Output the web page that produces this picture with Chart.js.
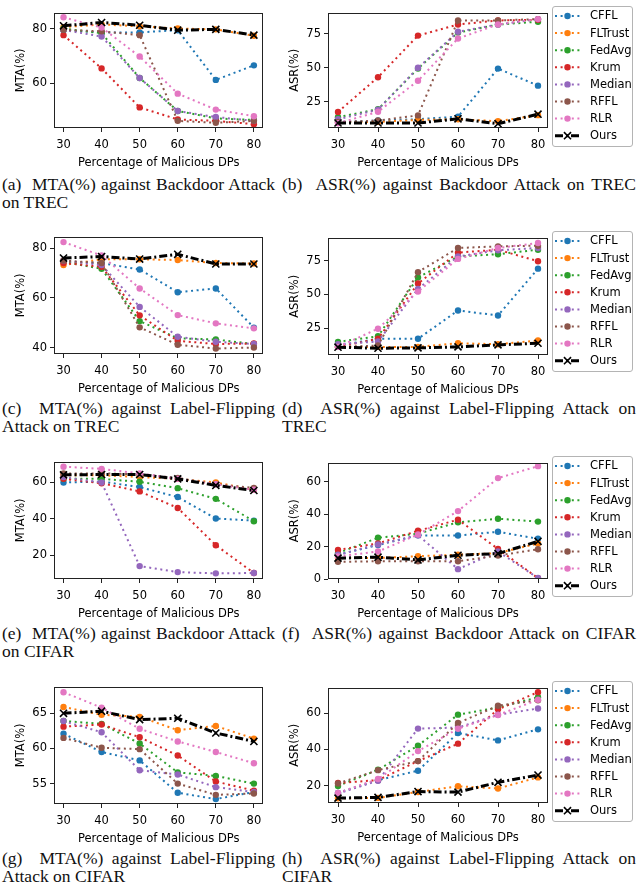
<!DOCTYPE html>
<html>
<head>
<meta charset="utf-8">
<script src="https://cdn.jsdelivr.net/npm/chart.js@4.4.0/dist/chart.umd.min.js"></script>
<style>
  html, body { margin: 0; padding: 0; background: #fff; }
  body { width: 641px; height: 884px; position: relative; overflow: hidden; }
  canvas { position: absolute; }
  .legend-box { position: absolute; box-sizing: border-box; width: 81px; height: 141px; border: 1.5px solid #b4b4b4; border-radius: 3px; }
  .cap { position: absolute; font-family: "Liberation Serif", "DejaVu Serif", serif; font-size: 17.5px; line-height: 18px; color: #111; white-space: nowrap; }
  .cap .j { text-align: justify; text-align-last: justify; white-space: normal; }
</style>
</head>
<body>
<script>
// x positions shared by every panel
const xValues = [30, 40, 50, 60, 70, 80];
const methods = ['CFFL', 'FLTrust', 'FedAvg', 'Krum', 'Median', 'RFFL', 'RLR', 'Ours'];

// rows follow the order of methods
const mtaBackdoorTrec = [
  [79.4, 78.6, 78.6, 79.4, 61.3, 66.6],
  [80.5, 81.5, 80.8, 80.0, 79.7, 77.4],
  [80.0, 78.3, 62.0, 50.0, 47.3, 46.7],
  [77.6, 65.5, 51.3, 46.9, 46.4, 45.2],
  [79.5, 77.1, 62.0, 50.0, 47.8, 46.4],
  [79.5, 79.0, 77.6, 46.4, 45.7, 46.4],
  [84.1, 80.4, 69.8, 56.3, 50.5, 48.1],
  [81.0, 82.2, 81.2, 79.4, 79.7, 77.6]
];
const asrBackdoorTrec = [
  [10.0, 11.0, 12.0, 13.9, 49.4, 36.8],
  [10.0, 10.0, 11.5, 12.0, 10.5, 15.0],
  [13.5, 19.4, 49.5, 76.0, 82.0, 84.0],
  [17.4, 43.0, 73.8, 82.0, 85.0, 85.5],
  [12.0, 19.0, 50.0, 76.6, 82.0, 86.0],
  [10.0, 11.0, 14.8, 85.0, 85.0, 86.0],
  [9.0, 17.5, 40.4, 71.7, 82.0, 86.0],
  [9.2, 9.2, 9.2, 12.3, 8.7, 15.7]
];
const mtaFlipTrec = [
  [74.5, 74.0, 71.4, 62.3, 63.8, 48.1],
  [73.2, 75.5, 75.5, 75.2, 74.0, 73.8],
  [74.5, 71.7, 50.7, 43.8, 43.3, 41.5],
  [74.0, 72.5, 53.0, 42.8, 41.5, 41.7],
  [75.0, 73.2, 56.4, 44.4, 42.4, 41.5],
  [75.0, 74.0, 48.2, 41.2, 39.7, 40.1],
  [82.4, 77.0, 63.8, 53.1, 49.8, 47.8],
  [76.0, 76.6, 75.6, 77.5, 73.6, 73.6]
];
const asrFlipTrec = [
  [12.0, 17.0, 17.0, 38.0, 34.3, 69.0],
  [11.0, 11.0, 11.0, 13.7, 13.0, 15.7],
  [14.7, 18.9, 62.5, 78.0, 79.7, 83.0],
  [11.0, 17.0, 58.0, 80.9, 83.0, 74.5],
  [13.0, 15.0, 54.0, 78.0, 82.6, 84.3],
  [11.0, 12.0, 66.4, 84.3, 85.5, 86.0],
  [11.0, 24.5, 52.0, 76.2, 84.3, 88.0],
  [10.8, 10.0, 10.3, 11.0, 12.5, 13.7]
];
const mtaBackdoorCifar = [
  [60.0, 60.5, 57.5, 52.0, 40.2, 39.0],
  [64.0, 64.0, 63.0, 62.0, 60.0, 56.0],
  [62.0, 62.0, 60.4, 56.9, 51.0, 38.7],
  [62.0, 59.6, 55.1, 46.0, 25.5, 10.2],
  [63.0, 60.0, 14.0, 10.7, 10.0, 10.2],
  [65.0, 65.0, 64.5, 62.5, 59.0, 57.0],
  [68.7, 67.5, 65.0, 62.0, 59.0, 56.0],
  [64.2, 64.4, 64.4, 62.0, 58.4, 55.6]
];
const asrBackdoorCifar = [
  [15.0, 21.0, 27.0, 26.9, 29.2, 24.9],
  [13.0, 13.0, 14.1, 15.0, 16.0, 22.0],
  [16.0, 25.5, 28.0, 35.1, 37.3, 35.5],
  [18.0, 22.0, 29.8, 36.7, 18.6, 0.5],
  [15.0, 21.4, 27.0, 6.1, 17.0, 0.6],
  [10.6, 11.0, 11.0, 11.0, 14.5, 18.4],
  [14.0, 17.0, 27.5, 42.0, 62.4, 69.8],
  [12.9, 13.5, 11.8, 14.7, 15.7, 23.3]
];
const mtaFlipCifar = [
  [62.1, 59.5, 58.3, 53.7, 52.8, 53.8],
  [65.9, 64.8, 64.5, 62.6, 63.2, 61.4],
  [63.9, 63.5, 60.7, 56.6, 56.1, 55.0],
  [63.1, 63.4, 61.6, 59.0, 55.3, 54.0],
  [63.9, 62.3, 56.9, 56.3, 54.5, 53.8],
  [61.5, 60.1, 59.9, 55.0, 53.4, 53.6],
  [68.0, 65.8, 62.8, 61.0, 59.5, 57.9],
  [65.0, 65.3, 64.1, 64.3, 62.2, 61.0]
];
const asrFlipCifar = [
  [16.0, 23.0, 28.2, 49.0, 44.9, 51.0],
  [13.0, 13.2, 16.5, 19.6, 18.4, 24.5],
  [19.8, 28.7, 42.0, 59.1, 63.0, 68.7],
  [21.4, 23.0, 33.5, 43.1, 62.0, 71.5],
  [15.6, 22.7, 51.4, 52.0, 59.0, 62.5],
  [21.2, 28.5, 33.5, 54.5, 64.0, 67.0],
  [16.0, 23.6, 39.0, 51.3, 58.9, 67.3],
  [13.1, 13.5, 16.7, 16.4, 21.8, 25.8]
];

// y tick labels per panel
const ticksA = [60, 80];
const ticksB = [25, 50, 75];
const ticksC = [40, 60, 80];
const ticksD = [25, 50, 75];
const ticksE = [20, 40, 60];
const ticksF = [0, 20, 40, 60];
const ticksG = [55, 60, 65];
const ticksH = [20, 40, 60];

const colors = ['#1f77b4', '#ff7f0e', '#2ca02c', '#d62728', '#9467bd', '#8c564b', '#e377c2', '#000000'];
const axisFont = { family: 'DejaVu Sans', size: 11.5 };

const panels = [
  { data: mtaBackdoorTrec, yTitle: 'MTA(%)', yMin: 43.8, yMax: 85.8, ticks: ticksA, col: 0, top: 12, bottom: 128 },
  { data: asrBackdoorTrec, yTitle: 'ASR(%)', yMin: 5.5, yMax: 90.8, ticks: ticksB, col: 1, top: 12, bottom: 128 },
  { data: mtaFlipTrec, yTitle: 'MTA(%)', yMin: 37.5, yMax: 84.6, ticks: ticksC, col: 0, top: 236, bottom: 354 },
  { data: asrFlipTrec, yTitle: 'ASR(%)', yMin: 5.0, yMax: 92.0, ticks: ticksD, col: 1, top: 237, bottom: 355 },
  { data: mtaBackdoorCifar, yTitle: 'MTA(%)', yMin: 6.9, yMax: 71.5, ticks: ticksE, col: 0, top: 461, bottom: 579 },
  { data: asrBackdoorCifar, yTitle: 'ASR(%)', yMin: 0, yMax: 72.0, ticks: ticksF, col: 1, top: 462, bottom: 579 },
  { data: mtaFlipCifar, yTitle: 'MTA(%)', yMin: 52.1, yMax: 68.8, ticks: ticksG, col: 0, top: 686, bottom: 804 },
  { data: asrFlipCifar, yTitle: 'ASR(%)', yMin: 10.4, yMax: 74.0, ticks: ticksH, col: 1, top: 687, bottom: 803 }
];

const captions = [
  { col: 0, y: 184, lines: ['(a)\u00a0 MTA(%) against Backdoor Attack', 'on TREC'] },
  { col: 1, y: 184, lines: ['(b)\u00a0 ASR(%) against Backdoor Attack on TREC'] },
  { col: 0, y: 408, lines: ['(c)\u00a0 MTA(%) against Label-Flipping', 'Attack on TREC'] },
  { col: 1, y: 408, lines: ['(d)\u00a0 ASR(%) against Label-Flipping Attack on', 'TREC'] },
  { col: 0, y: 633, lines: ['(e)\u00a0 MTA(%) against Backdoor Attack', 'on CIFAR'] },
  { col: 1, y: 633, lines: ['(f)\u00a0 ASR(%) against Backdoor Attack on CIFAR'] },
  { col: 0, y: 858, lines: ['(g)\u00a0 MTA(%) against Label-Flipping', 'Attack on CIFAR'] },
  { col: 1, y: 858, lines: ['(h)\u00a0 ASR(%) against Label-Flipping Attack on', 'CIFAR'] }
];

// box around the plot area, like matplotlib spines
const framePlugin = {
  id: 'frame',
  afterDatasetsDraw(chart) {
    const a = chart.chartArea;
    const ctx = chart.ctx;
    ctx.save();
    ctx.strokeStyle = '#222';
    ctx.lineWidth = 1;
    ctx.setLineDash([]);
    ctx.strokeRect(Math.round(a.left) + 0.5, Math.round(a.top) + 0.5,
      Math.round(a.right - a.left) - 1, Math.round(a.bottom - a.top) - 1);
    ctx.restore();
  }
};

// legend entries right of the axes (the frame is an html box)
const sideLegend = {
  id: 'sideLegend',
  afterDraw(chart, args, opts) {
    if (!opts.show) return;
    const ctx = chart.ctx;
    const bx = opts.x, by = opts.y;
    ctx.save();
    chart.data.datasets.forEach((ds, i) => {
      const y = by + 10 + i * 17.1;
      ctx.strokeStyle = ds.borderColor;
      ctx.fillStyle = ds.backgroundColor;
      ctx.lineWidth = ds.borderWidth;
      ctx.setLineDash(ds.borderDash);
      ctx.beginPath();
      ctx.moveTo(bx + 3, y);
      ctx.lineTo(bx + 28, y);
      ctx.stroke();
      ctx.setLineDash([]);
      ctx.lineWidth = ds.pointBorderWidth;
      Chart.helpers.drawPoint(ctx, {
        pointStyle: ds.pointStyle, radius: ds.pointRadius,
        borderWidth: ds.pointBorderWidth, rotation: 0
      }, bx + 15.5, y);
      ctx.fillStyle = '#000';
      ctx.font = axisFont.size + 'px "' + axisFont.family + '"';
      ctx.textBaseline = 'middle';
      ctx.textAlign = 'left';
      ctx.fillText(ds.label, bx + 38, y + 0.5);
    });
    ctx.restore();
  }
};

function makePanel(p) {
  const left = p.col === 0 ? 10 : 284;
  const width = p.col === 0 ? 260 : 350;
  const padRight = p.col === 0 ? 2 : 86;
  const top = p.top - 6;
  const height = p.bottom + 42 - top;

  if (p.col === 1) {
    const box = document.createElement('div');
    box.className = 'legend-box';
    box.style.left = '552px';
    box.style.top = (p.top - 6) + 'px';
    document.body.appendChild(box);
  }

  const cv = document.createElement('canvas');
  cv.width = width;
  cv.height = height;
  cv.style.left = left + 'px';
  cv.style.top = top + 'px';
  cv.style.width = width + 'px';
  cv.style.height = height + 'px';
  document.body.appendChild(cv);

  const datasets = methods.map((m, i) => {
    const ours = m === 'Ours';
    return {
      label: m,
      data: xValues.map((x, j) => ({ x: x, y: p.data[i][j] })),
      borderColor: colors[i],
      backgroundColor: colors[i],
      borderWidth: ours ? 3 : 2,
      borderDash: ours ? [8, 3, 2, 3] : [2, 3.6],
      pointStyle: ours ? 'crossRot' : 'circle',
      pointRadius: ours ? 5 : 3.2,
      pointBorderWidth: ours ? 1.6 : 0,
      pointHoverRadius: ours ? 5 : 3.2,
      tension: 0,
      fill: false,
      order: methods.length - 1 - i
    };
  });

  new Chart(cv, {
    type: 'line',
    data: { datasets: datasets },
    options: {
      responsive: false,
      animation: false,
      events: [],
      layout: { padding: { top: 6, right: padRight, left: 0, bottom: 0 } },
      plugins: {
        legend: { display: false },
        tooltip: { enabled: false },
        sideLegend: { show: p.col === 1, x: 552 - left, y: 0 }
      },
      scales: {
        x: {
          type: 'linear',
          min: 27.5,
          max: 82.5,
          afterBuildTicks: s => { s.ticks = xValues.map(v => ({ value: v })); },
          afterFit: s => { s.height = 42; s.paddingLeft = 0; s.paddingRight = 0; },
          grid: { drawOnChartArea: false, tickLength: 4, color: '#222' },
          border: { display: false },
          ticks: { font: axisFont, color: '#000', padding: 6, maxRotation: 0 },
          title: { display: true, text: 'Percentage of Malicious DPs', font: axisFont, color: '#000', padding: { top: 0, bottom: 0 } }
        },
        y: {
          type: 'linear',
          min: p.yMin,
          max: p.yMax,
          afterBuildTicks: s => { s.ticks = p.ticks.map(v => ({ value: v })); },
          afterFit: s => { s.width = 44; s.paddingTop = 0; s.paddingBottom = 0; },
          grid: { drawOnChartArea: false, tickLength: 4, color: '#222' },
          border: { display: false },
          ticks: { font: axisFont, color: '#000', padding: 3 },
          title: { display: true, text: p.yTitle, font: axisFont, color: '#000', padding: { top: 4, bottom: 0 } }
        }
      }
    },
    plugins: [framePlugin, sideLegend]
  });
}

panels.forEach(makePanel);

captions.forEach(c => {
  const div = document.createElement('div');
  div.className = 'cap';
  div.style.left = (c.col === 0 ? 2 : 282) + 'px';
  div.style.width = (c.col === 0 ? 273 : 354) + 'px';
  div.style.top = (c.y - 9) + 'px';
  c.lines.forEach((t, k) => {
    const line = document.createElement('div');
    if (k === 0) line.className = 'j';
    line.textContent = t;
    div.appendChild(line);
  });
  document.body.appendChild(div);
});
</script>
</body>
</html>
